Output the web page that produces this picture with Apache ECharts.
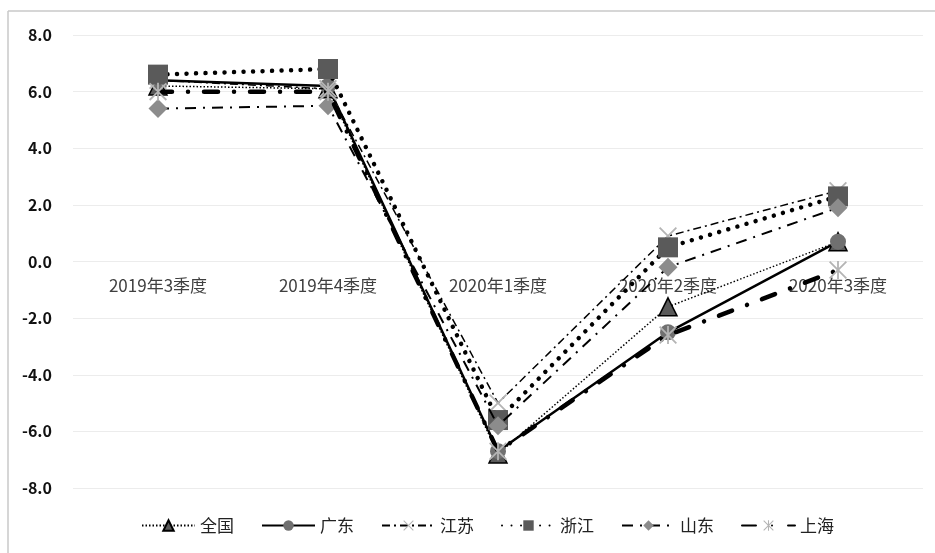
<!DOCTYPE html>
<html><head><meta charset="utf-8">
<script src="https://cdn.jsdelivr.net/npm/echarts@6/dist/echarts.min.js"></script>
<style>html,body{margin:0;padding:0;background:#fff}#c{width:935px;height:553px}</style>
</head><body><div id="c"></div><script>
const categories = ['2019年3季度','2019年4季度','2020年1季度','2020年2季度','2020年3季度'];
const yTicks = [-8,-6,-4,-2,0,2,4,6,8];
const seriesNames = ['全国','广东','江苏','浙江','山东','上海'];
const quanguo   = [6.2, 6.1, -6.8, -1.6, 0.7];
const guangdong = [6.4, 6.2, -6.7, -2.5, 0.7];
const jiangsu   = [6.4, 6.1, -5.0, 0.9, 2.5];
const zhejiang  = [6.6, 6.8, -5.6, 0.5, 2.3];
const shandong  = [5.4, 5.5, -5.8, -0.2, 1.9];
const shanghai  = [6.0, 6.0, -6.7, -2.6, -0.3];

const FONT = '"Noto Sans CJK SC", "Noto Sans", sans-serif';
const X_PATH = 'path://M0.7,0 L5,4.3 L9.3,0 L10,0.7 L5.7,5 L10,9.3 L9.3,10 L5,5.7 L0.7,10 L0,9.3 L4.3,5 L0,0.7 Z';
const STAR_PATH = X_PATH + ' M4.5,0 L5.5,0 L5.5,10 L4.5,10 Z';

const styles = [
  {data: quanguo, symbol: 'triangle', size: 18, fill: '#5a5a5a', border: '#000', bw: 1.5,
   line: {width: 1.5, type: [1.5, 2], cap: 'butt'}},
  {data: guangdong, symbol: 'circle', size: 16, fill: '#707070', border: '#707070', bw: 0,
   line: {width: 2.5, type: 'solid', cap: 'butt'}},
  {data: jiangsu, symbol: X_PATH, size: 18, fill: '#b4b4b4', border: '#b4b4b4', bw: 0,
   line: {width: 1.5, type: [8, 4, 2, 4], cap: 'butt'}},
  {data: zhejiang, symbol: 'rect', size: 20, fill: '#5a5a5a', border: '#5a5a5a', bw: 0,
   line: {width: 4.5, type: [0.01, 9.5], cap: 'round'}},
  {data: shandong, symbol: 'diamond', size: 19, fill: '#8c8c8c', border: '#8c8c8c', bw: 0,
   line: {width: 2, type: [11, 7, 2, 7], cap: 'butt'}},
  {data: shanghai, symbol: STAR_PATH, size: 18, fill: '#b4b4b4', border: '#b4b4b4', bw: 0,
   line: {width: 4.5, type: [14, 16, 0.01, 16], cap: 'round'}}
];

const W = 935, H = 553;
const GRID = {left: 73, right: 12, top: 35, bottom: 65};
const yMin = yTicks[0], yMax = yTicks[yTicks.length - 1];
const plotH = H - GRID.top - GRID.bottom;
// move the category axis up to the value 0 line
const zeroOffset = -plotH * (0 - yMin) / (yMax - yMin);

const chart = echarts.init(document.getElementById('c'), null, {renderer: 'canvas'});
chart.setOption({
  animation: false,
  backgroundColor: '#fff',
  graphic: [
    {type: 'line', shape: {x1: 8, y1: 11, x2: W, y2: 11}, style: {stroke: '#c8c8c8', lineWidth: 1.5}},
    {type: 'line', shape: {x1: 8, y1: 11, x2: 8, y2: H}, style: {stroke: '#c8c8c8', lineWidth: 1.5}}
  ],
  grid: Object.assign({containLabel: false}, GRID),
  xAxis: {
    type: 'category', data: categories, boundaryGap: true,
    offset: zeroOffset,
    axisLine: {show: false, onZero: false},
    axisTick: {show: false},
    axisLabel: {color: '#404040', fontSize: 17, fontFamily: FONT, margin: 16},
    splitLine: {show: false}
  },
  yAxis: {
    type: 'value', min: yMin, max: yMax, interval: 2,
    axisLine: {show: false}, axisTick: {show: false},
    axisLabel: {color: '#111', fontSize: 16, fontFamily: FONT, fontWeight: 'bold', margin: 21,
      formatter: v => v.toFixed(1)},
    splitLine: {lineStyle: {color: '#ececec', width: 1}}
  },
  legend: {
    bottom: 14, left: 136, itemWidth: 53, itemHeight: 13, itemGap: 27,
    textStyle: {color: '#222', fontSize: 17, fontFamily: FONT},
    data: seriesNames
  },
  series: styles.map((s, i) => ({
    name: seriesNames[i], type: 'line', data: s.data,
    symbol: s.symbol, symbolSize: s.size, symbolKeepAspect: true,
    showAllSymbol: true,
    itemStyle: {color: s.fill, borderColor: s.border, borderWidth: s.bw, opacity: 1},
    lineStyle: {color: '#000', width: s.line.width, type: s.line.type, cap: s.line.cap},
    z: 2 + i
  }))
});
</script></body></html>
